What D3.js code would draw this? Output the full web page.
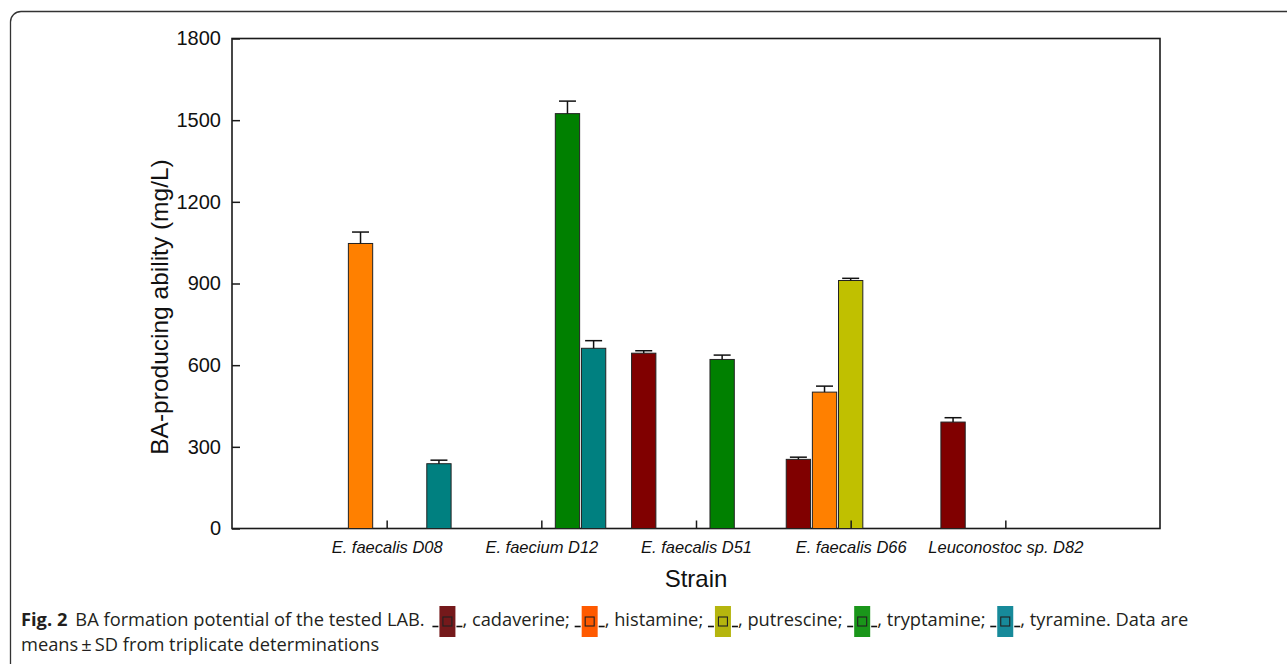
<!DOCTYPE html>
<html>
<head>
<meta charset="utf-8">
<script src="https://cdn.jsdelivr.net/npm/d3@7"></script>
<style>
  body { margin: 0; background: #fff; }
  svg { display: block; }
</style>
</head>
<body>
<svg id="chart" width="1287" height="664"></svg>
<script>
// Strains on the x axis
const strains = ["E. faecalis D08", "E. faecium D12", "E. faecalis D51", "E. faecalis D66", "Leuconostoc sp. D82"];
// Biogenic amines (one bar slot each inside a strain group)
const amines = ["cadaverine", "histamine", "putrescine", "tryptamine", "tyramine"];

// Mean concentrations (mg/L) per strain, in the order of `strains`
const cadaverine = [0, 0, 644, 254, 391];
const histamine  = [1047, 0, 0, 501, 0];
const putrescine = [0, 0, 0, 911, 0];
const tryptamine = [0, 1524, 621, 0, 0];
const tyramine   = [238, 662, 0, 0, 0];

// Standard deviations (mg/L)
const cadaverineSD = [0, 0, 9, 8, 16];
const histamineSD  = [42, 0, 0, 22, 0];
const putrescineSD = [0, 0, 0, 8, 0];
const tryptamineSD = [0, 46, 16, 0, 0];
const tyramineSD   = [13, 28, 0, 0, 0];

const yTicks = [0, 300, 600, 900, 1200, 1500, 1800];

const barColors    = ["#800000", "#ff8000", "#c0c000", "#008000", "#008080"];
const legendColors = ["#75191b", "#ff5a00", "#b5b50e", "#1a961a", "#178a9a"];

const means = [cadaverine, histamine, putrescine, tryptamine, tyramine];
const sds   = [cadaverineSD, histamineSD, putrescineSD, tryptamineSD, tyramineSD];

const bars = [];
amines.forEach((a, j) => {
  strains.forEach((s, i) => {
    if (means[j][i] > 0) bars.push({ strain: i, amine: j, value: means[j][i], sd: sds[j][i] });
  });
});

const svg = d3.select("#chart");

// Outer figure frame with a rounded top-left corner
svg.append("path")
  .attr("d", "M10.5,670 V22 A10.5,10.5 0 0 1 21,11.5 H1300")
  .attr("fill", "none")
  .attr("stroke", "#333")
  .attr("stroke-width", 1.3);

const plot = { left: 232, right: 1160, top: 38.5, bottom: 528.5 };

const x = d3.scaleLinear().domain([0, 6]).range([plot.left, plot.right]);
const y = d3.scaleLinear().domain([0, 1800]).range([plot.bottom, plot.top]);

const slot = (x(1) - x(0)) * 0.169;
const barW = slot * 0.93;

// Plot box
svg.append("rect")
  .attr("x", plot.left).attr("y", plot.top)
  .attr("width", plot.right - plot.left).attr("height", plot.bottom - plot.top)
  .attr("fill", "none").attr("stroke", "#1a1a1a").attr("stroke-width", 1.6);

// Bars
const barX = d => x(d.strain + 1) + (d.amine - 2) * slot - barW / 2;
svg.append("g").selectAll("rect")
  .data(bars).join("rect")
  .attr("x", barX)
  .attr("y", d => y(d.value))
  .attr("width", barW)
  .attr("height", d => y(0) - y(d.value))
  .attr("fill", d => barColors[d.amine])
  .attr("stroke", "#222")
  .attr("stroke-width", 1);

// Error bars (upper only)
const err = svg.append("g").attr("stroke", "#111").attr("stroke-width", 1.5);
bars.filter(d => d.sd > 0).forEach(d => {
  const cx = barX(d) + barW / 2;
  err.append("line").attr("x1", cx).attr("x2", cx).attr("y1", y(d.value)).attr("y2", y(d.value + d.sd));
  err.append("line").attr("x1", cx - 8.5).attr("x2", cx + 8.5).attr("y1", y(d.value + d.sd)).attr("y2", y(d.value + d.sd));
});

// Axes
const yAxis = d3.axisLeft(y).tickValues(yTicks).tickFormat(d3.format("d"))
  .tickSizeInner(-8).tickSizeOuter(0).tickPadding(11);
const gy = svg.append("g").attr("transform", `translate(${plot.left},0)`).call(yAxis);
gy.select(".domain").remove();
gy.selectAll("line").attr("stroke", "#1a1a1a").attr("stroke-width", 1.5);
gy.selectAll("text").attr("font-family", "Liberation Sans, Arial, sans-serif").attr("font-size", 20).attr("fill", "#111");

const xAxis = d3.axisBottom(x).tickValues([1, 2, 3, 4, 5]).tickFormat(v => strains[v - 1])
  .tickSizeInner(-8).tickSizeOuter(0).tickPadding(13);
const gx = svg.append("g").attr("transform", `translate(0,${plot.bottom})`).call(xAxis);
gx.select(".domain").remove();
gx.selectAll("line").attr("stroke", "#1a1a1a").attr("stroke-width", 1.5);
gx.selectAll("text").attr("font-family", "Liberation Sans, Arial, sans-serif").attr("font-size", 16.5)
  .attr("font-style", "italic").attr("fill", "#111");

// Axis titles
svg.append("text")
  .attr("transform", "translate(168,307) rotate(-90)")
  .attr("text-anchor", "middle")
  .attr("font-family", "Liberation Sans, Arial, sans-serif")
  .attr("font-size", 24.5).attr("fill", "#111")
  .text("BA-producing ability (mg/L)");

svg.append("text")
  .attr("x", (plot.left + plot.right) / 2).attr("y", 587)
  .attr("text-anchor", "middle")
  .attr("font-family", "Liberation Sans, Arial, sans-serif")
  .attr("font-size", 24).attr("fill", "#111")
  .text("Strain");

// Caption with inline legend symbols
const capFont = "Open Sans, sans-serif";
const capSize = 18.3;
const capFill = "#231f20";
const cap = svg.append("g");

function addText(xPos, yPos, str, bold) {
  const t = cap.append("text")
    .attr("x", xPos).attr("y", yPos)
    .attr("font-family", capFont).attr("font-size", capSize)
    .attr("font-weight", bold ? 700 : 400)
    .attr("fill", capFill)
    .style("white-space", "pre")
    .text(str);
  return xPos + t.node().getComputedTextLength();
}

function addSymbol(xPos, base, j) {
  const g = cap.append("g");
  g.append("line").attr("x1", xPos).attr("x2", xPos + 6).attr("y1", base + 0.5).attr("y2", base + 0.5)
    .attr("stroke", "#111").attr("stroke-width", 1.6);
  g.append("rect").attr("x", xPos + 7).attr("y", base - 20).attr("width", 16).attr("height", 31)
    .attr("fill", legendColors[j]);
  g.append("rect").attr("x", xPos + 10.5).attr("y", base - 9).attr("width", 9).attr("height", 9)
    .attr("fill", "none").attr("stroke", "#222").attr("stroke-width", 1.1);
  g.append("line").attr("x1", xPos + 24).attr("x2", xPos + 30).attr("y1", base + 0.5).attr("y2", base + 0.5)
    .attr("stroke", "#111").attr("stroke-width", 1.6);
  return xPos + 30;
}

const base1 = 626, base2 = 651;
let cx = 21;
cx = addText(cx, base1, "Fig. 2", true);
cx += 8;
cx = addText(cx, base1, "BA formation potential of the tested LAB. ", false);
cx += 3;
const tails = [", cadaverine; ", ", histamine; ", ", putrescine; ", ", tryptamine; ", ", tyramine. Data are"];
amines.forEach((a, j) => {
  cx = addSymbol(cx, base1, j);
  cx = addText(cx, base1, tails[j], false);
});
addText(21, base2, "means\u2009\u00b1\u2009SD from triplicate determinations", false);
</script>
</body>
</html>
